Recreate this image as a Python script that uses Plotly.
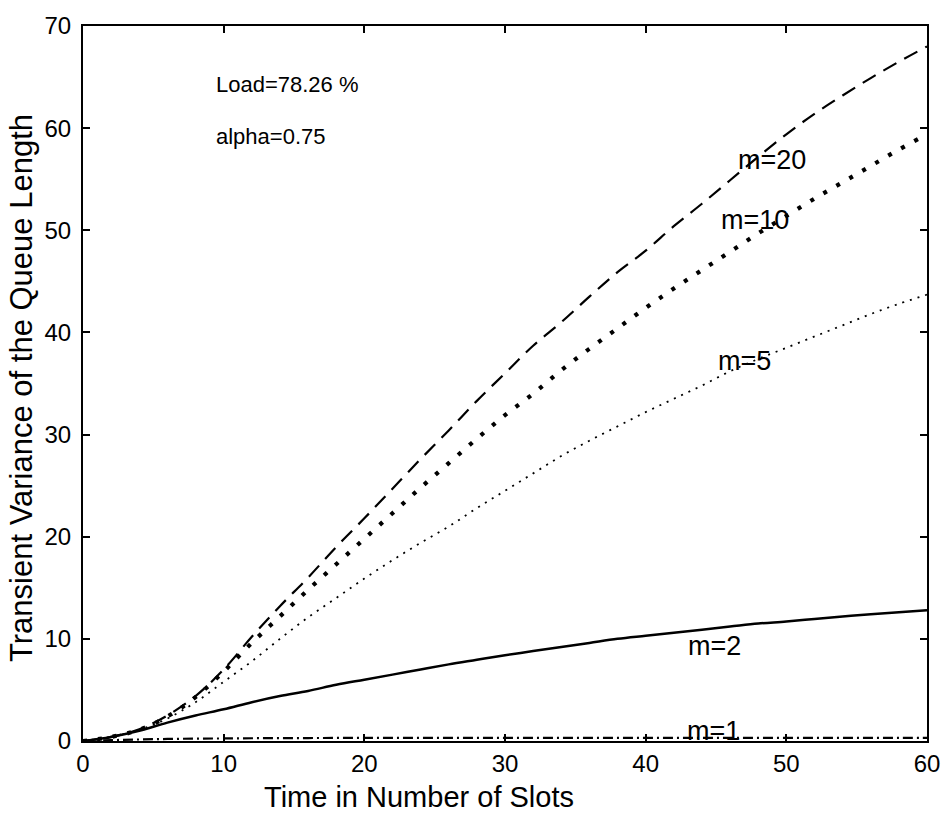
import plotly.graph_objects as go

# ---- data ----
t = [0, 2, 4, 6, 8, 10, 12, 14, 16, 18, 20, 22, 24, 26, 28, 30,
     32, 34, 36, 38, 40, 42, 44, 46, 48, 50, 52, 54, 56, 58, 60]

var_m20 = [0, 0.4, 1.15, 2.5, 4.4, 7.0, 10.2, 13.2, 16.0, 19.0, 21.8, 24.7, 27.6, 30.4, 33.3, 36.0,
           38.7, 41.0, 43.5, 45.9, 48.0, 50.4, 52.6, 54.9, 57.2, 59.4, 61.4, 63.2, 64.9, 66.5, 68.0]
var_m10 = [0, 0.4, 1.1, 2.4, 4.3, 6.8, 9.6, 12.2, 14.8, 17.3, 19.8, 22.3, 24.8, 27.2, 29.6, 31.9,
           34.0, 36.3, 38.4, 40.4, 42.4, 44.3, 46.1, 47.9, 49.7, 51.4, 53.1, 54.7, 56.3, 57.9, 59.4]
var_m5 = [0, 0.4, 1.1, 2.2, 3.8, 5.8, 7.8, 10.0, 12.1, 14.0, 15.9, 17.7, 19.4, 21.0, 22.8, 24.5,
          26.2, 27.9, 29.4, 30.8, 32.2, 33.5, 34.8, 36.2, 37.4, 38.5, 39.6, 40.7, 41.8, 42.8, 43.7]
var_m2 = [0, 0.4, 1.0, 1.8, 2.5, 3.1, 3.8, 4.4, 4.9, 5.5, 6.0, 6.5, 7.0, 7.5, 7.95, 8.4,
          8.8, 9.2, 9.6, 10.0, 10.3, 10.6, 10.9, 11.2, 11.5, 11.7, 11.95, 12.2, 12.4, 12.6, 12.8]
var_m1 = [0, 0.08, 0.15, 0.2, 0.23, 0.25, 0.27, 0.28, 0.29, 0.3, 0.3, 0.3, 0.3, 0.3, 0.3, 0.3,
          0.3, 0.3, 0.3, 0.3, 0.3, 0.3, 0.3, 0.3, 0.3, 0.3, 0.3, 0.3, 0.3, 0.3, 0.3]

x_ticks = [0, 10, 20, 30, 40, 50, 60]
y_ticks = [0, 10, 20, 30, 40, 50, 60, 70]

series = [
    ("m=20", var_m20, "15px,9px", 2.2),
    ("m=10", var_m10, "4px,11px", 4.2),
    ("m=5", var_m5, "2px,6px", 1.8),
    ("m=2", var_m2, "solid", 2.5),
    ("m=1", var_m1, "10px,4px,2px,4px", 2.2),
]

# label positions (data coords) for the curve names
labels = [
    ("m=20", 46.4, 56.9),
    ("m=10", 45.2, 51.0),
    ("m=5", 45.0, 37.2),
    ("m=2", 42.9, 9.3),
    ("m=1", 42.8, 1.0),
]

FONT = "Liberation Sans, Arial, Helvetica, sans-serif"

fig = go.Figure()
for name, ys, dash, w in series:
    fig.add_trace(go.Scatter(x=t, y=ys, mode="lines", name=name,
                             line=dict(color="black", width=w, dash=dash, shape="spline"),
                             showlegend=False))

for txt, lx, ly in labels:
    fig.add_annotation(x=lx, y=ly, text=txt, showarrow=False, xanchor="left", yanchor="middle",
                       font=dict(family=FONT, size=27, color="black"))

fig.add_annotation(x=9.3, y=64.3, text="Load=78.26 %", showarrow=False, xanchor="left",
                   yanchor="middle", font=dict(family=FONT, size=22, color="black"))
fig.add_annotation(x=9.3, y=59.2, text="alpha=0.75", showarrow=False, xanchor="left",
                   yanchor="middle", font=dict(family=FONT, size=22, color="black"))

# axis titles (placed as in the reference)
fig.add_annotation(xref="paper", yref="paper", x=0.398, y=-0.079, text="Time in Number of Slots",
                   showarrow=False, xanchor="center", yanchor="middle",
                   font=dict(family=FONT, size=29, color="black"))
fig.add_annotation(xref="paper", yref="paper", x=-0.072, y=0.494,
                   text="Transient Variance of the Queue Length", textangle=-90,
                   showarrow=False, xanchor="center", yanchor="middle",
                   font=dict(family=FONT, size=31, color="black"))

axis_common = dict(showgrid=False, zeroline=False, showline=True, linecolor="black", linewidth=2,
                   mirror="ticks", ticks="inside", ticklen=7, tickwidth=1.5, tickcolor="black",
                   tickfont=dict(family=FONT, size=24, color="black"))

fig.update_xaxes(range=[0, 60], tickvals=x_ticks, ticktext=[str(v) for v in x_ticks],
                 **axis_common)
fig.update_yaxes(range=[0, 70], tickvals=y_ticks, ticktext=[str(v) for v in y_ticks],
                 ticklabelstandoff=5, **axis_common)

fig.update_layout(width=952, height=813, plot_bgcolor="white", paper_bgcolor="white",
                  margin=dict(l=83, r=20, t=16, b=72), showlegend=False)

fig.write_html("out.html")
